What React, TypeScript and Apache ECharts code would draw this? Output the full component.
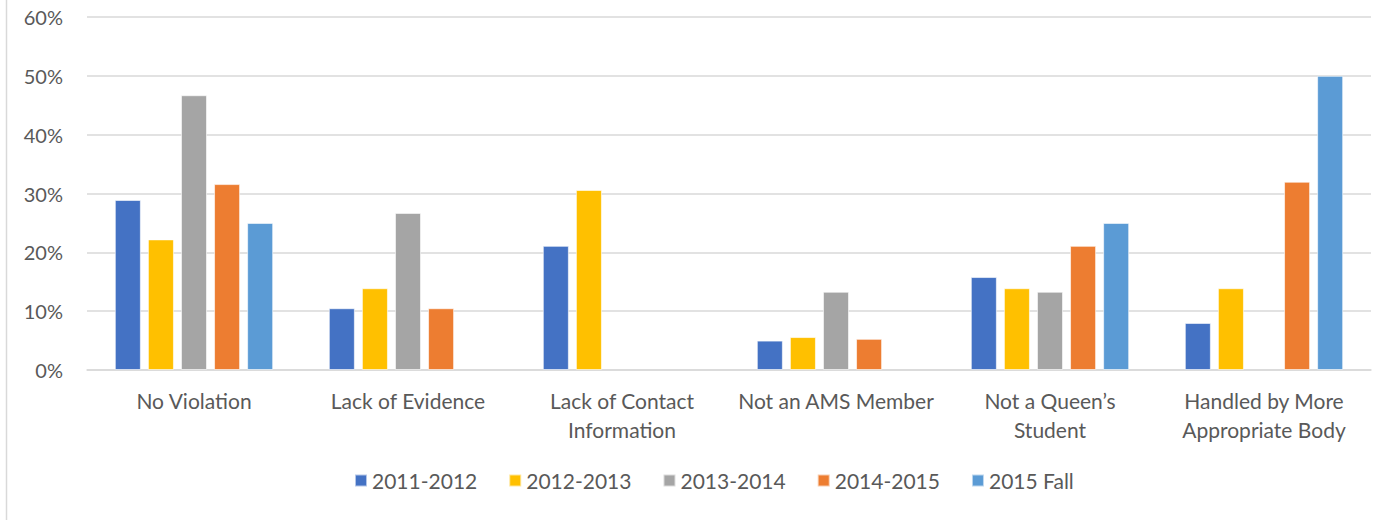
import React, { useEffect, useRef } from "react";
import * as echarts from "echarts";

const categories = [
  "No Violation",
  "Lack of Evidence",
  "Lack of Contact\nInformation",
  "Not an AMS Member",
  "Not a Queen\u2019s\nStudent",
  "Handled by More\nAppropriate Body",
];
const seriesNames = ["2011-2012", "2012-2013", "2013-2014", "2014-2015", "2015 Fall"];
const s2011 = [28.9, 10.5, 21.1, 5.0, 15.8, 8.0];
const s2012 = [22.2, 13.9, 30.6, 5.6, 13.9, 13.9];
const s2013 = [46.7, 26.7, null, 13.3, 13.3, null];
const s2014 = [31.6, 10.5, null, 5.3, 21.1, 32.0];
const s2015 = [25.0, null, null, null, 25.0, 50.0];
const yTicks = [0, 10, 20, 30, 40, 50, 60];
const colors = ["#4472C4", "#FFC000", "#A5A5A5", "#ED7D31", "#5B9BD5"];

const FONT = "Lato";

export default function App() {
  const ref = useRef<HTMLDivElement>(null);
  useEffect(() => {
    const chart = echarts.init(ref.current!, null, { renderer: "svg" });
    const data = [s2011, s2012, s2013, s2014, s2015];
    chart.setOption({
      animation: false,
      color: colors,
      textStyle: { fontFamily: FONT },
      graphic: [
        {
          type: "line",
          shape: { x1: 6.5, y1: 0, x2: 6.5, y2: 520 },
          style: { stroke: "#d9d9d9", lineWidth: 1.5 },
        },
      ],
      legend: {
        bottom: 24,
        left: 349,
        itemWidth: 12,
        itemHeight: 12,
        itemGap: 31,
        icon: "rect",
        textStyle: { color: "#595959", fontSize: 21, fontFamily: FONT },
        data: seriesNames,
      },
      grid: { left: 87, right: 10, top: 17, bottom: 150 },
      xAxis: {
        type: "category",
        data: categories,
        axisLine: { lineStyle: { color: "#d9d9d9", width: 1.5 } },
        axisTick: { show: false },
        axisLabel: {
          color: "#595959",
          fontSize: 21,
          fontFamily: FONT,
          margin: 16,
          lineHeight: 29,
          interval: 0,
        },
      },
      yAxis: {
        type: "value",
        min: yTicks[0],
        max: yTicks[yTicks.length - 1],
        interval: 10,
        axisLabel: {
          color: "#595959",
          fontSize: 20,
          fontFamily: FONT,
          margin: 24,
          formatter: (v: number) => v + "%",
        },
        splitLine: { lineStyle: { color: "#d9d9d9", width: 1.5 } },
        axisLine: { show: false },
        axisTick: { show: false },
      },
      series: seriesNames.map((name, i) => ({
        name,
        type: "bar",
        data: data[i],
        barGap: "27%",
        barCategoryGap: "26%",
        itemStyle: { borderColor: "rgba(255,255,255,0.6)", borderWidth: 1 },
      })),
    });
    return () => chart.dispose();
  }, []);
  return (
    <div
      ref={ref}
      style={{ position: "fixed", left: 0, top: 0, width: 1381, height: 520, background: "#fff" }}
    />
  );
}
